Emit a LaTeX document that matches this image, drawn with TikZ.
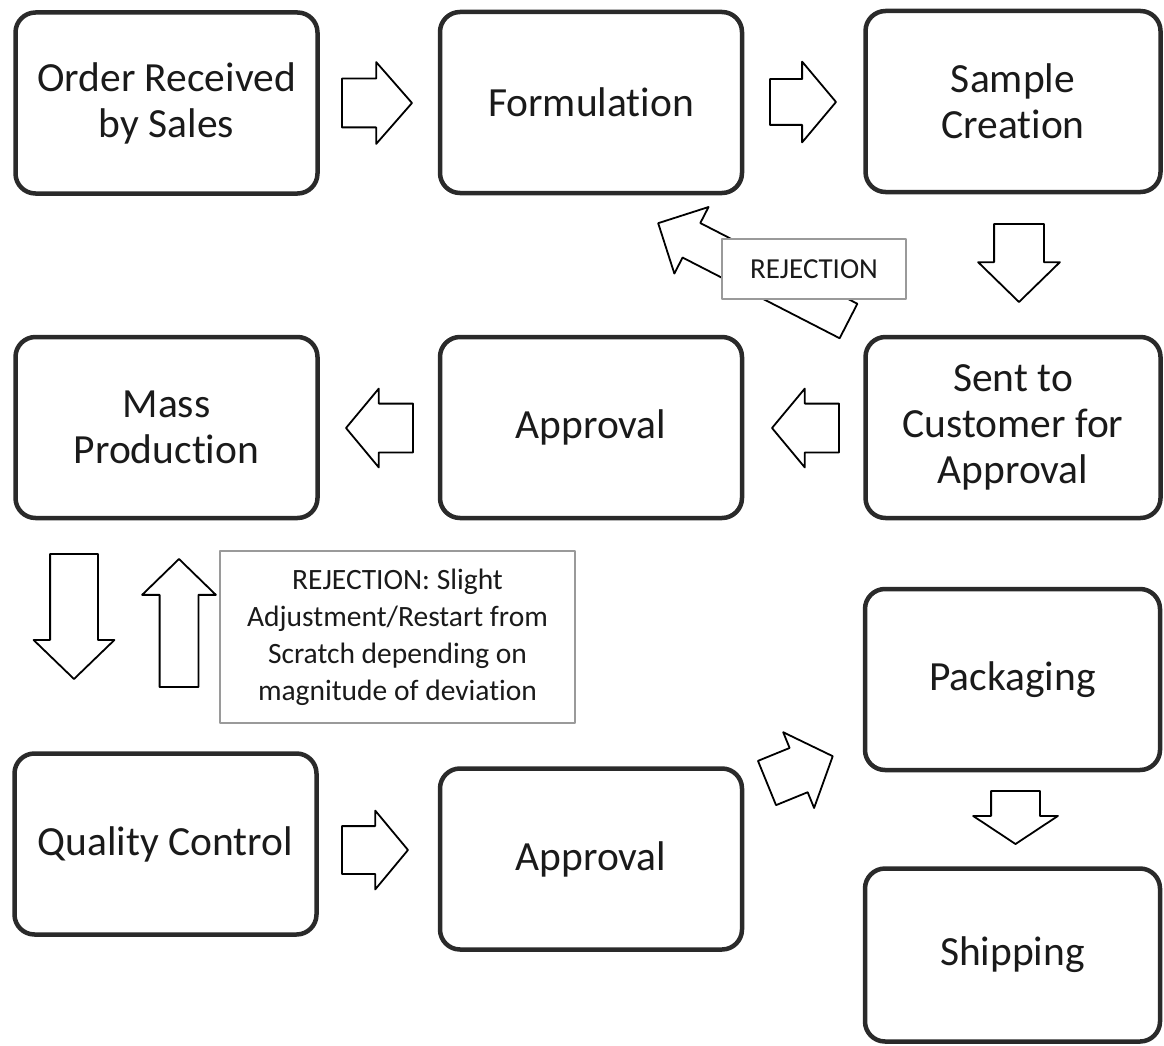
\documentclass[tikz,border=0pt]{standalone}
\usepackage{fontspec}
\setmainfont{Carlito}[Ligatures={NoCommon}]
\usepackage{tikz}
\usetikzlibrary{shapes.arrows}
\definecolor{fcInk}{HTML}{1A1A1A}
\definecolor{fcEdge}{HTML}{2A2A2A}
\definecolor{fcNote}{HTML}{9A9A9A}
\tikzset{
  fc diagram/.style={x=1pt, y=-1pt, text=fcInk, line join=round},
  fc box/.style={draw=fcEdge, line width=4.5pt, rounded corners=20pt,
    minimum width=302pt, minimum height=181pt, align=center,
    font=\fontsize{41.5}{46}\selectfont},
  fc narrow box/.style={fc box, minimum width=295pt},
  fc note/.style={draw=fcNote, line width=1.3pt, fill=white,
    align=center, inner sep=0pt},
  fc arrow/.style={single arrow, draw=black, fill=white, line width=1.8pt,
    inner sep=0pt, inner ysep=23pt, outer sep=0pt, minimum width=1pt,
    single arrow head extend=16.5pt, single arrow tip angle=98,
    single arrow head indent=0pt, anchor=tail}
}
\begin{document}
\begin{tikzpicture}[fc diagram]
\useasboundingbox (0,0) rectangle (1164,1046);
% process steps
\node[fc box] (order) at (166.5,103) {Order Received\\by Sales};
\node[fc box] (form) at (591,102.5) {Formulation};
\node[fc narrow box] (sample) at (1013,101.5) {Sample\\Creation};
\node[fc narrow box] (sent) at (1013,427.5) {Sent to\\Customer for\\Approval};
\node[fc box] (approve) at (591,427.5) {Approval};
\node[fc box] (mass) at (166.5,427.5) {Mass\\Production};
\node[fc box] (qc) at (165.5,844) {Quality Control};
\node[fc box] (final) at (591,859) {Approval};
\node[fc narrow box] (pack) at (1012.5,679.5) {Packaging};
\node[fc narrow box, minimum height=173pt] (ship) at (1012.5,955) {Shipping};
% block arrows
\node[fc arrow, minimum height=70pt, inner ysep=23.5pt, single arrow tip angle=97.6] (a1) at (342,103) {};
\node[fc arrow, minimum height=66pt, inner ysep=22pt, single arrow head extend=17.5pt, single arrow tip angle=100] (a2) at (770,102) {};
\node[fc arrow, rotate=-90, minimum height=78pt, inner ysep=24pt, single arrow head extend=16pt, single arrow tip angle=91.5] (a3) at (1019,224) {};
\node[fc arrow, rotate=180, minimum height=67pt, inner ysep=23.5pt, single arrow head extend=15pt, single arrow tip angle=100.5] (a4) at (839,428) {};
\node[fc arrow, rotate=180, minimum height=67pt, inner ysep=23.5pt, single arrow head extend=15pt, single arrow tip angle=100.5] (a5) at (413,428) {};
\node[fc arrow, rotate=-90, minimum height=125pt, single arrow head extend=16.5pt, single arrow tip angle=92] (a6) at (74,554) {};
\node[fc arrow, rotate=90, minimum height=128pt, inner ysep=18.5pt, single arrow head extend=17.5pt, single arrow tip angle=91.6] (a7) at (179,687) {};
\node[fc arrow, minimum height=66pt, single arrow head extend=15.5pt, single arrow tip angle=100.5] (a8) at (342,850) {};
\node[fc arrow, rotate=22.2, minimum height=71pt, single arrow head extend=17pt, single arrow tip angle=96] (a9) at (767,783) {};
\node[fc arrow, rotate=-90, minimum height=53pt, inner ysep=23.5pt, single arrow head extend=18pt, single arrow tip angle=113] (a10) at (1015.5,791) {};
\node[fc arrow, rotate=152.8, minimum height=214pt, inner ysep=18.5pt, single arrow head extend=18pt, single arrow tip angle=90] (back1) at (848.5,321) {};
% rejection notes
\node[fc note, minimum width=184pt, minimum height=60pt,
  font=\fontsize{29}{35}\selectfont] (rej) at (814,269) {REJECTION};
\node[fc note, minimum width=355pt, minimum height=172pt,
  font=\fontsize{29.5}{37}\selectfont] (rejqc) at (397.5,637)
  {REJECTION: Slight\\Adjustment/Restart from\\Scratch depending on\\magnitude of deviation};
\end{tikzpicture}
\end{document}
